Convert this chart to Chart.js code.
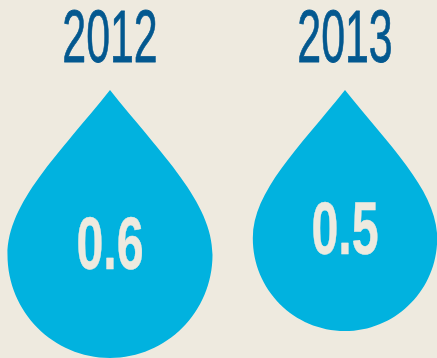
<!DOCTYPE html>
<html>
<head>
<meta charset="utf-8">
<title>Drops</title>
<script src="https://cdn.jsdelivr.net/npm/chart.js@4"></script>
<style>
  html, body { margin: 0; padding: 0; background: #eeeadf; }
  #wrap { position: relative; width: 437px; height: 358px; overflow: hidden; }
</style>
</head>
<body>
<div id="wrap"><canvas id="chart"></canvas></div>
<script>
const categories = ['2012', '2013'];
const values = [0.6, 0.5];
const valueLabels = ['0.6', '0.5'];

// the drop doesn't start at zero, the tip hangs from this value on the reversed axis
const dropFloor = -0.393;

const BG = '#eeeadf';
const DROP = '#01b2df';
const YEAR = '#03588f';
const FONT = '"Liberation Sans Narrow", "Liberation Sans", sans-serif';

// squeezed text, the narrow font is still too wide for these labels
function squeezedText(ctx, text, x, y, font, color, sx, extra) {
  ctx.save();
  ctx.translate(x, y);
  ctx.scale(sx, 1);
  ctx.font = font;
  ctx.fillStyle = color;
  ctx.strokeStyle = color;
  ctx.lineWidth = extra;
  ctx.lineJoin = 'round';
  ctx.textAlign = 'center';
  ctx.textBaseline = 'alphabetic';
  ctx.strokeText(text, 0, 0);
  ctx.fillText(text, 0, 0);
  ctx.restore();
}

function dropPath(ctx, cx, top, h) {
  const w = h * 0.3825; // half width, drops keep their shape
  const py = f => top + f * h;
  ctx.beginPath();
  ctx.moveTo(cx, top);
  ctx.bezierCurveTo(cx + 0.5 * w, py(0.24), cx + w, py(0.42), cx + w, py(0.615));
  ctx.bezierCurveTo(cx + w, py(0.828), cx + 0.552 * w, py(1), cx, py(1));
  ctx.bezierCurveTo(cx - 0.552 * w, py(1), cx - w, py(0.828), cx - w, py(0.615));
  ctx.bezierCurveTo(cx - w, py(0.42), cx - 0.5 * w, py(0.24), cx, top);
  ctx.closePath();
}

const dropPlugin = {
  id: 'drops',
  afterDatasetsDraw(chart) {
    const { ctx } = chart;
    chart.getDatasetMeta(0).data.forEach((bar, i) => {
      const top = Math.min(bar.y, bar.base);
      const h = Math.abs(bar.y - bar.base);
      dropPath(ctx, bar.x, top, h);
      ctx.fillStyle = DROP;
      ctx.fill();
      squeezedText(ctx, valueLabels[i], bar.x, top + h * 0.575 + 25, `bold 75px ${FONT}`, BG, 0.645, 0.5);
      squeezedText(ctx, categories[i], bar.x, 62, `74px ${FONT}`, YEAR, 0.58, 0.8);
    });
  },
};

new Chart(document.getElementById('chart'), {
  type: 'bar',
  data: {
    labels: categories,
    datasets: [
      {
        data: values,
        base: dropFloor,
        backgroundColor: 'transparent',
        borderWidth: 0,
      },
    ],
  },
  options: {
    responsive: true,
    maintainAspectRatio: false,
    animation: false,
    layout: { padding: { top: 90, left: 110, right: 92, bottom: 0 } },
    plugins: { legend: { display: false }, tooltip: { enabled: false } },
    scales: {
      x: { display: false, offset: false },
      y: { display: false, reverse: true, min: dropFloor, max: 0.6 },
    },
  },
  plugins: [dropPlugin],
});
</script>
</body>
</html>
